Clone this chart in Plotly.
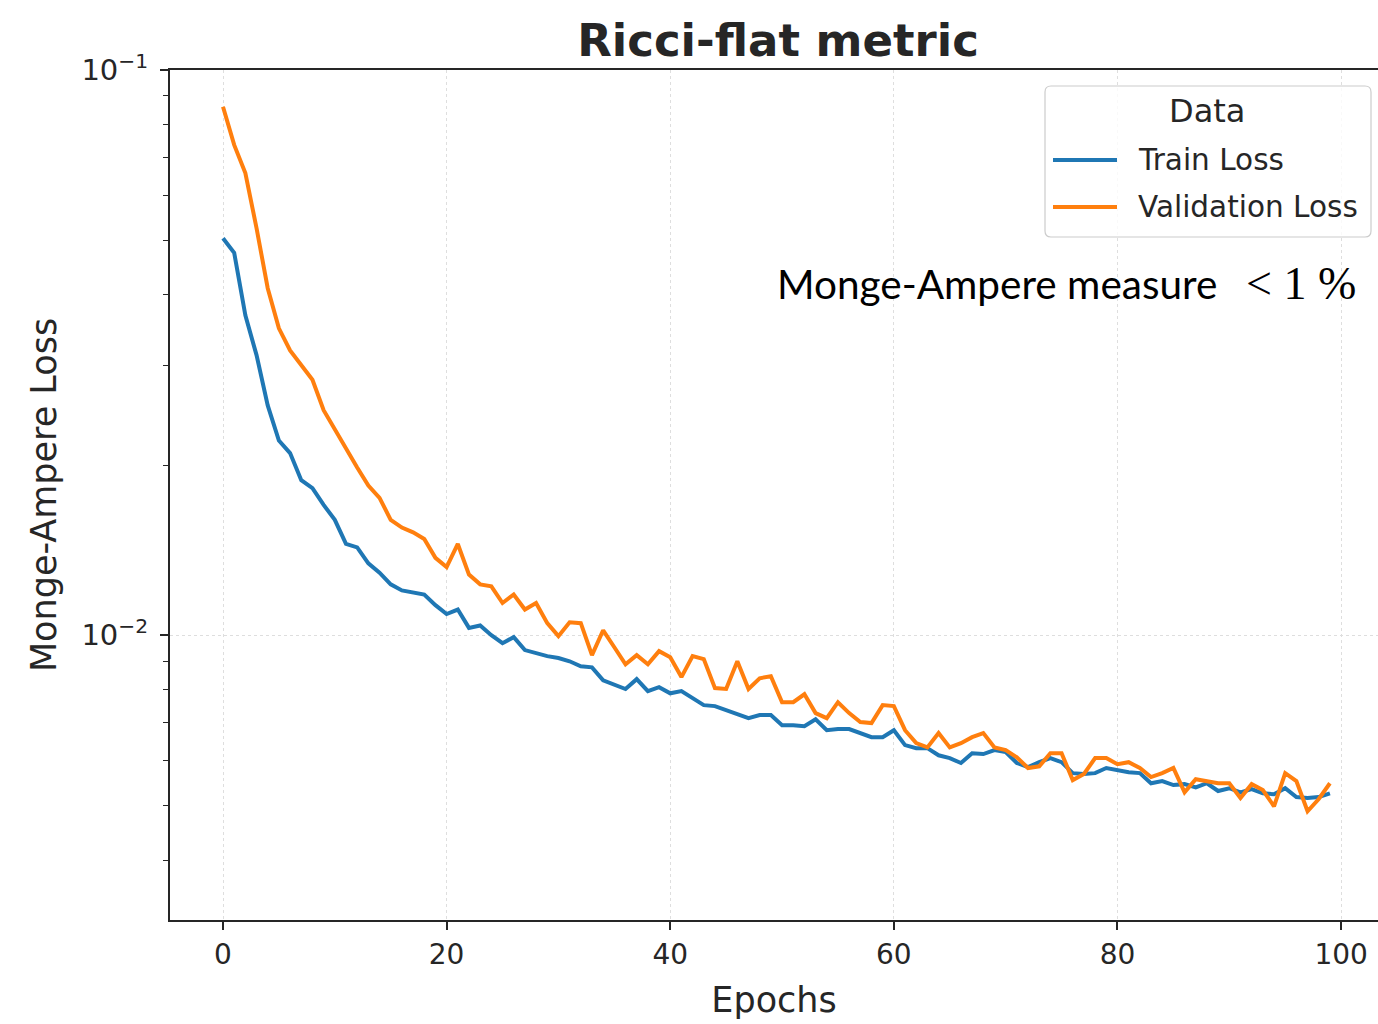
import plotly.graph_objects as go

# Training history: loss per epoch
epochs = list(range(100))

train_loss = [
    0.0504, 0.0475, 0.0368, 0.0313, 0.0255, 0.0221, 0.0210, 0.0188, 0.0182, 0.0170,
    0.0160, 0.0145, 0.0143, 0.0134, 0.0129, 0.0123, 0.0120, 0.0119, 0.0118, 0.0113,
    0.0109, 0.0111, 0.0103, 0.0104, 0.0100, 0.00968, 0.00992, 0.00941, 0.00929, 0.00918,
    0.00911, 0.00899, 0.00881, 0.00877, 0.00832, 0.00819, 0.00803, 0.00836, 0.00796, 0.00809,
    0.00789, 0.00796, 0.00774, 0.00752, 0.00749, 0.00737, 0.00725, 0.00713, 0.00722, 0.00722,
    0.00693, 0.00693, 0.00690, 0.00710, 0.00679, 0.00682, 0.00682, 0.00671, 0.00660, 0.00660,
    0.00679, 0.00639, 0.00631, 0.00631, 0.00613, 0.00606, 0.00594, 0.00618, 0.00616, 0.00626,
    0.00621, 0.00594, 0.00584, 0.00596, 0.00606, 0.00596, 0.00570, 0.00568, 0.00570, 0.00582,
    0.00577, 0.00572, 0.00570, 0.00547, 0.00552, 0.00543, 0.00545, 0.00538, 0.00547, 0.00530,
    0.00536, 0.00527, 0.00534, 0.00525, 0.00523, 0.00536, 0.00517, 0.00515, 0.00517, 0.00525,
]

val_loss = [
    0.0861, 0.0737, 0.0657, 0.0525, 0.0411, 0.0349, 0.0319, 0.0300, 0.0283, 0.0250,
    0.0231, 0.0213, 0.0198, 0.0184, 0.0175, 0.0160, 0.0155, 0.0152, 0.0148, 0.0137,
    0.0132, 0.0145, 0.0128, 0.0123, 0.0122, 0.0114, 0.0118, 0.0111, 0.0114, 0.0105,
    0.00996, 0.01054, 0.0105, 0.00922, 0.0102, 0.00952, 0.00888, 0.00922, 0.00888, 0.00937,
    0.00914, 0.00843, 0.00918, 0.00907, 0.00806, 0.00803, 0.00899, 0.00803, 0.00839, 0.00846,
    0.00761, 0.00761, 0.00786, 0.00728, 0.00713, 0.00761, 0.00728, 0.00702, 0.00699, 0.00752,
    0.00749, 0.00679, 0.00644, 0.00633, 0.00671, 0.00633, 0.00644, 0.00660, 0.00671, 0.00633,
    0.00626, 0.00608, 0.00582, 0.00586, 0.00618, 0.00618, 0.00554, 0.00568, 0.00606, 0.00606,
    0.00591, 0.00596, 0.00582, 0.00561, 0.00570, 0.00582, 0.00527, 0.00556, 0.00552, 0.00547,
    0.00547, 0.00515, 0.00545, 0.00532, 0.00498, 0.00570, 0.00552, 0.00488, 0.00513, 0.00547,
]

series_names = ["Train Loss", "Validation Loss"]
series_colors = ["#1f77b4", "#ff7f0e"]

x_ticks = [0, 20, 40, 60, 80, 100]
y_major = [0.01, 0.1]
y_major_text = ["10<sup>\u22122</sup>", "10<sup>\u22121</sup>"]
y_minor = [0.004, 0.005, 0.006, 0.007, 0.008, 0.009,
           0.02, 0.03, 0.04, 0.05, 0.06, 0.07, 0.08, 0.09]

W, H = 1378, 1024
L, R, T, B = 170, 0, 70, 104
PW, PH = W - L - R, H - T - B

def px(x):
    return (x - L) / PW

def py(y):
    return (H - B - y) / PH

ink = "#262626"
base_font = "DejaVu Sans"

fig = go.Figure()
for name, ys, col in zip(series_names, [train_loss, val_loss], series_colors):
    fig.add_trace(go.Scatter(
        x=epochs, y=ys, mode="lines", name=name,
        line=dict(color=col, width=4), showlegend=False,
    ))

fig.update_layout(
    width=W, height=H,
    margin=dict(l=L, r=R, t=T, b=B),
    paper_bgcolor="white", plot_bgcolor="white",
    font=dict(family=base_font, color=ink, size=28),
    title=dict(text="<b>Ricci-flat metric</b>", x=px(778), xref="paper",
               xanchor="center", y=1 - 40 / H, yanchor="middle",
               font=dict(size=45, color=ink, family=base_font)),
)

fig.update_xaxes(
    range=[-4.74, 103.3],
    tickvals=x_ticks, ticks="outside", ticklen=8, tickwidth=1.5, tickcolor=ink,
    showline=True, linecolor=ink, linewidth=2, mirror=True,
    showgrid=True, gridcolor="#dedede", griddash="dot", gridwidth=1,
    zeroline=False,
    tickfont=dict(size=28, color=ink),
    title=dict(text="Epochs", font=dict(size=35, color=ink), standoff=18),
)

fig.update_yaxes(
    type="log", range=[-2.504, -1.0],
    tickmode="array", tickvals=y_major, ticktext=y_major_text,
    ticks="outside", ticklen=8, tickwidth=1.5, tickcolor=ink,
    ticklabelstandoff=6,
    minor=dict(tickmode="array", tickvals=y_minor, ticks="outside",
               ticklen=5, tickwidth=1.2, tickcolor=ink, showgrid=False),
    showline=True, linecolor=ink, linewidth=2, mirror=False,
    showgrid=True, gridcolor="#dedede", griddash="dot", gridwidth=1,
    zeroline=False,
    tickfont=dict(size=29, color=ink),
    title=dict(text="Monge-Ampere Loss", font=dict(size=35, color=ink), standoff=14),
)

# Legend box drawn by hand (rounded frame, line samples, labels)
x0, x1, y0, y1 = 1045, 1371, 86, 237
r = 6
rx, ry = r / PW, r / PH
X0, X1, Y0, Y1 = px(x0), px(x1), py(y1), py(y0)
path = (f"M {X0+rx},{Y0} L {X1-rx},{Y0} Q {X1},{Y0} {X1},{Y0+ry} "
        f"L {X1},{Y1-ry} Q {X1},{Y1} {X1-rx},{Y1} L {X0+rx},{Y1} "
        f"Q {X0},{Y1} {X0},{Y1-ry} L {X0},{Y0+ry} Q {X0},{Y0} {X0+rx},{Y0} Z")
fig.add_shape(type="path", path=path, xref="paper", yref="paper",
              line=dict(color="#cccccc", width=1.2),
              fillcolor="rgba(255,255,255,0.8)", layer="above")

legend_rows = [160, 207]
for name, col, yy in zip(series_names, series_colors, legend_rows):
    fig.add_shape(type="line", xref="paper", yref="paper",
                  x0=px(1053), x1=px(1117), y0=py(yy), y1=py(yy),
                  line=dict(color=col, width=4), layer="above")
    fig.add_annotation(text=name, xref="paper", yref="paper",
                       x=px(1136), y=py(yy), xanchor="left", yanchor="middle",
                       showarrow=False, font=dict(size=29.5, color=ink, family=base_font))

fig.add_annotation(text="Data", xref="paper", yref="paper",
                   x=px(1207), y=py(111), xanchor="center", yanchor="middle",
                   showarrow=False, font=dict(size=32, color=ink, family=base_font))

# Text note on the accuracy of the Monge-Ampere measure
fig.add_annotation(text="Monge-Ampere measure", xref="paper", yref="paper",
                   x=px(1219), y=py(284), xanchor="right", yanchor="middle",
                   showarrow=False, font=dict(size=40.5, color="black", family="Lato"))
fig.add_annotation(text="&lt; 1 %", xref="paper", yref="paper",
                   x=px(1244), y=py(283), xanchor="left", yanchor="middle",
                   showarrow=False, font=dict(size=46, color="black", family="Liberation Serif"))

fig.write_html("out.html")
